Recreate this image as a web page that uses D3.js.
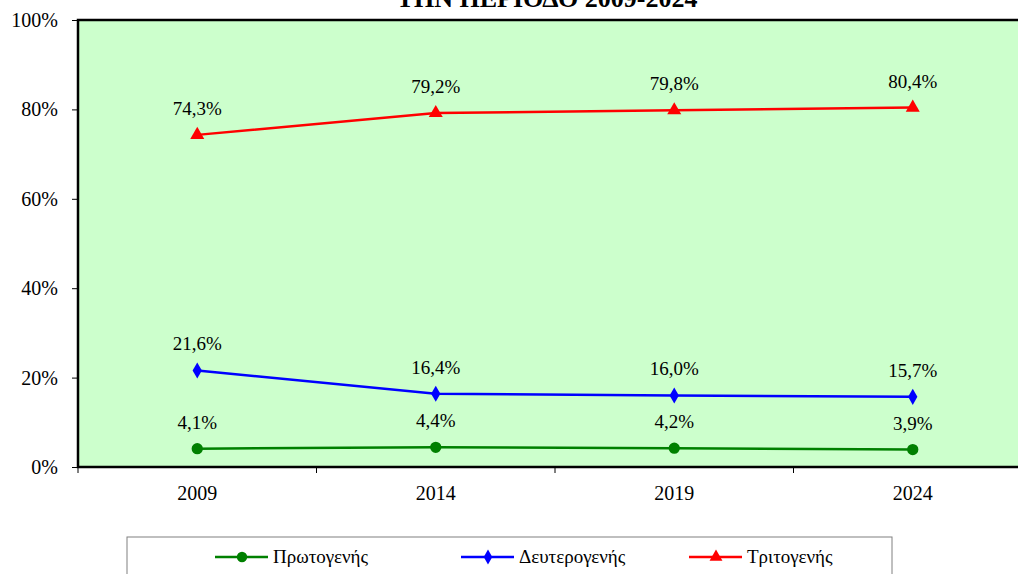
<!DOCTYPE html>
<html lang="el">
<head>
<meta charset="UTF-8">
<script src="https://d3js.org/d3.v7.min.js"></script>
<style>
  html, body { margin: 0; padding: 0; background: #fff; overflow: hidden; }
</style>
</head>
<body>
<div id="chart"></div>
<script>
// data
var years = ['2009', '2014', '2019', '2024'];
var seriesNames = ['Πρωτογενής', 'Δευτερογενής', 'Τριτογενής'];
var primary = [4.1, 4.4, 4.2, 3.9];
var secondary = [21.6, 16.4, 16.0, 15.7];
var tertiary = [74.3, 79.2, 79.8, 80.4];
var yTicks = [0, 20, 40, 60, 80, 100];
var colors = ['#008000', '#0000ff', '#ff0000'];
var symbols = [d3.symbolCircle, d3.symbolDiamond, d3.symbolTriangle];
var markerSize = [100, 75, 85];

var FONT = '"Liberation Serif", "DejaVu Serif", serif';
var width = 1018, height = 574;
var margin = {top: 20, left: 78, right: -14, bottom: 107};

var svg = d3.select('#chart').append('svg')
  .attr('width', width)
  .attr('height', height)
  .attr('font-family', FONT);

var x = d3.scaleBand()
  .domain(years)
  .range([margin.left, width - margin.right]);

var y = d3.scaleLinear()
  .domain([0, 100])
  .range([height - margin.bottom, margin.top]);

// title (top is cut off in the original)
svg.append('text')
  .attr('x', 547)
  .attr('y', 7)
  .attr('text-anchor', 'middle')
  .attr('font-family', FONT)
  .attr('font-size', 26)
  .attr('font-weight', 'bold')
  .text('ΤΗΝ ΠΕΡΙΟΔΟ 2009-2024');

// plot area
svg.append('rect')
  .attr('x', margin.left)
  .attr('y', margin.top)
  .attr('width', x.range()[1] - margin.left)
  .attr('height', y(0) - y(100))
  .style('fill', '#ccffcc')
  .style('stroke', '#000')
  .style('stroke-width', 2.5);

// y axis
var yAxis = svg.append('g')
  .attr('transform', 'translate(' + margin.left + ',0)')
  .call(d3.axisLeft(y).tickValues(yTicks).tickSize(6).tickPadding(14)
    .tickFormat(function(d) { return d + '%'; }));
yAxis.attr('font-family', FONT).attr('font-size', 20);
yAxis.select('.domain').remove();
yAxis.selectAll('line').style('stroke', '#000');

// x axis ticks at band boundaries
var bounds = years.map(function(d) { return x(d); });
svg.selectAll('.xtick')
  .data(bounds)
  .enter().append('line')
  .attr('x1', function(d) { return d; })
  .attr('x2', function(d) { return d; })
  .attr('y1', y(0))
  .attr('y2', y(0) + 6)
  .style('stroke', '#000');

svg.selectAll('.xlabel')
  .data(years)
  .enter().append('text')
  .attr('x', function(d) { return x(d) + x.bandwidth() / 2; })
  .attr('y', y(0) + 33)
  .attr('text-anchor', 'middle')
  .attr('font-size', 20)
  .text(function(d) { return d; });

// lines
var allSeries = [primary, secondary, tertiary];
var line = d3.line()
  .x(function(d, i) { return x(years[i]) + x.bandwidth() / 2; })
  .y(function(d) { return y(d); });

var fmt = function(v) { return v.toFixed(1).replace('.', ',') + '%'; };

allSeries.forEach(function(vals, s) {
  svg.append('path')
    .datum(vals)
    .attr('d', line)
    .style('fill', 'none')
    .style('stroke', colors[s])
    .style('stroke-width', 2.5);

  svg.selectAll('.m' + s)
    .data(vals)
    .enter().append('path')
    .attr('transform', function(d, i) {
      return 'translate(' + (x(years[i]) + x.bandwidth() / 2) + ',' + y(d) + ')';
    })
    .attr('d', d3.symbol().type(symbols[s]).size(markerSize[s]))
    .style('fill', colors[s]);

  svg.selectAll('.l' + s)
    .data(vals)
    .enter().append('text')
    .attr('x', function(d, i) { return x(years[i]) + x.bandwidth() / 2; })
    .attr('y', function(d) { return y(d) - 20; })
    .attr('text-anchor', 'middle')
    .attr('font-size', 19)
    .text(function(d) { return fmt(d); });
});

// legend
var legend = svg.append('g');
legend.append('rect')
  .attr('x', 127)
  .attr('y', 537)
  .attr('width', 765)
  .attr('height', 60)
  .style('fill', '#fff')
  .style('stroke', '#808080')
  .style('stroke-width', 1);

var legendX = [215, 461, 689];
seriesNames.forEach(function(name, s) {
  var g = legend.append('g').attr('transform', 'translate(' + legendX[s] + ',557)');
  g.append('line')
    .attr('x1', 0).attr('x2', 53)
    .attr('y1', 0).attr('y2', 0)
    .style('stroke', colors[s])
    .style('stroke-width', 2.5);
  g.append('path')
    .attr('transform', 'translate(27,0)')
    .attr('d', d3.symbol().type(symbols[s]).size(markerSize[s] * 0.85))
    .style('fill', colors[s]);
  g.append('text')
    .attr('x', 58)
    .attr('y', 6)
    .attr('font-size', 19)
    .text(name);
});
</script>
</body>
</html>
